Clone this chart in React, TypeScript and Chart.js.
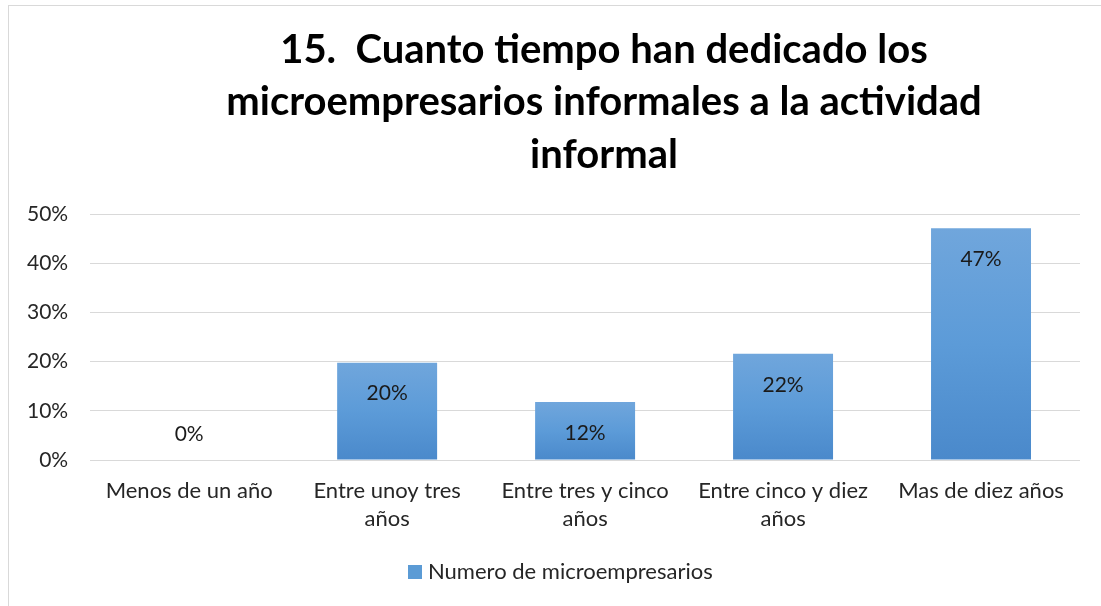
import React, { useEffect, useRef } from "react";
import { Chart, registerables } from "chart.js";

Chart.register(...registerables);

const categories: (string | string[])[] = [
  "Menos de un año",
  ["Entre unoy tres", "años"],
  ["Entre tres y cinco", "años"],
  ["Entre cinco y diez", "años"],
  "Mas de diez años",
];
const values: number[] = [0, 19.8, 11.8, 21.6, 47.1];
const valueLabels: string[] = ["0%", "20%", "12%", "22%", "47%"];
const seriesName = "Numero de microempresarios";
const titleLines: string[] = [
  "15.  Cuanto tiempo han dedicado los",
  "microempresarios informales a la actividad",
  "informal",
];

const FONT = "Lato, 'Liberation Sans', sans-serif";
const TEXT = "#262626";

const borderPlugin = {
  id: "outerBorder",
  beforeDraw(chart: any) {
    const c = chart.ctx;
    c.save();
    c.fillStyle = "#ffffff";
    c.fillRect(0, 0, chart.width, chart.height);
    c.strokeStyle = "#d9d9d9";
    c.lineWidth = 1;
    c.strokeRect(8.5, 5.5, chart.width + 20, chart.height + 20);
    c.restore();
  },
};

const titlePlugin = {
  id: "customTitle",
  afterDraw(chart: any) {
    const c = chart.ctx;
    c.save();
    c.font = `bold 40px ${FONT}`;
    c.fillStyle = "#000000";
    c.textAlign = "center";
    c.textBaseline = "middle";
    titleLines.forEach((line, i) => {
      c.fillText(line, 604, 50 + i * 52.5);
    });
    c.restore();
  },
};

const legendPlugin = {
  id: "customLegend",
  afterDraw(chart: any) {
    const c = chart.ctx;
    c.save();
    c.fillStyle = "#5b9bd5";
    c.fillRect(408, 565, 14, 14);
    c.font = `22px ${FONT}`;
    c.fillStyle = TEXT;
    c.textAlign = "left";
    c.textBaseline = "middle";
    c.fillText(chart.data.datasets[0].label, 428, 572);
    c.restore();
  },
};

const labelPlugin = {
  id: "barLabels",
  afterDatasetsDraw(chart: any) {
    const c = chart.ctx;
    const meta = chart.getDatasetMeta(0);
    c.save();
    c.font = `21px ${FONT}`;
    c.fillStyle = "#1a1a1a";
    c.textAlign = "center";
    c.textBaseline = "middle";
    meta.data.forEach((el: any, i: number) => {
      const y = Math.min(el.y + 31, el.base - 26);
      c.fillText(valueLabels[i], el.x, y);
    });
    c.restore();
  },
};

export default function App() {
  const ref = useRef<HTMLCanvasElement>(null);
  useEffect(() => {
    if (!ref.current) return;
    const chart = new Chart(ref.current, {
      type: "bar",
      data: {
        labels: categories,
        datasets: [
          {
            label: seriesName,
            data: values,
            backgroundColor: (ctx: any) => {
              if (ctx.type !== "data") return "#5b9bd5";
              const chart = ctx.chart;
              const area = chart.chartArea;
              if (!area) return "#5b9bd5";
              const ys = chart.scales.y;
              const top = ys.getPixelForValue(ctx.raw);
              const bot = ys.getPixelForValue(0);
              if (Math.abs(bot - top) < 1) return "#5b9bd5";
              const g = chart.ctx.createLinearGradient(0, top, 0, bot);
              g.addColorStop(0, "#70a6dc");
              g.addColorStop(0.5, "#5c9bd8");
              g.addColorStop(1, "#4a89cb");
              return g;
            },
            borderWidth: 0,
            barPercentage: 0.505,
            categoryPercentage: 1,
          },
        ],
      },
      options: {
        responsive: false,
        animation: false,
        layout: { padding: { left: 5, right: 21, top: 214, bottom: 56 } },
        plugins: {
          title: { display: false },
          legend: { display: false },
          tooltip: { enabled: false },
        },
        scales: {
          x: {
            grid: { display: false, drawTicks: false },
            border: { display: false },
            ticks: {
              color: TEXT,
              font: { family: FONT, size: 22, lineHeight: 1.27 },
              padding: 17,
              maxRotation: 0,
              autoSkip: false,
            },
          },
          y: {
            min: 0,
            max: 50,
            grid: { color: "#d9d9d9", lineWidth: 1, drawTicks: false },
            border: { display: false },
            ticks: {
              stepSize: 10,
              color: TEXT,
              font: { family: FONT, size: 21 },
              padding: 22,
              callback: (v: any) => `${v}%`,
            },
          },
        },
      },
      plugins: [borderPlugin, titlePlugin, legendPlugin, labelPlugin],
    });
    return () => chart.destroy();
  }, []);
  return (
    <div style={{ position: "absolute", left: 0, top: 0, width: 1101, height: 606 }}>
      <canvas ref={ref} width={1101} height={606} />
    </div>
  );
}
